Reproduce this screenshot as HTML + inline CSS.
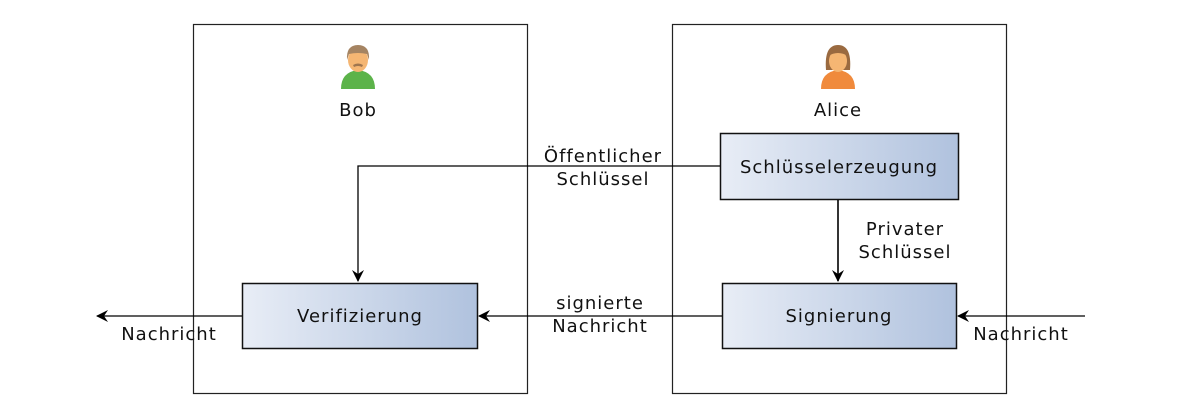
<!DOCTYPE html>
<html><head><meta charset="utf-8"><style>
html,body{margin:0;padding:0;background:#fff;width:1181px;height:418px;overflow:hidden}
text{font-family:"DejaVu Sans","Liberation Sans",sans-serif;font-size:18px;letter-spacing:1px;fill:#111}
</style></head><body>
<svg width="1181" height="418" xmlns="http://www.w3.org/2000/svg">
<defs>
<linearGradient id="g" x1="0" x2="1" y1="0" y2="0"><stop offset="0" stop-color="#e8edf6"/><stop offset="1" stop-color="#b0c2de"/></linearGradient>
<marker id="a" markerWidth="12" markerHeight="12" refX="11" refY="6" orient="auto" markerUnits="userSpaceOnUse"><path d="M0,0 L12,6 L0,12 L4,6 Z" fill="#000"/></marker>
</defs>
<rect x="193.5" y="24.5" width="334" height="369" fill="none" stroke="#222" stroke-width="1.2"/>
<rect x="672.5" y="24.5" width="334" height="369" fill="none" stroke="#222" stroke-width="1.2"/>
<g transform="translate(358,0)">
<path d="M-17,89 Q-17,72 0,70 Q17,72 17,89 Z" fill="#5cb34a"/>
<ellipse cx="0" cy="60" rx="10" ry="12" fill="#f5b673"/>
<path d="M-11,60 Q-12,45 0,45 Q12,45 11,60 L9,54 Q0,52 -9,54 Z" fill="#a58462"/>
<path d="M-5,65 Q0,62 5,65 L4,67 Q0,65 -4,67 Z" fill="#a0764f"/>
</g>
<text x="358" y="116" text-anchor="middle">Bob</text>
<g transform="translate(838,0)">
<path d="M-17,89 Q-17,72 0,70 Q17,72 17,89 Z" fill="#f08a3c"/>
<path d="M-12,70 Q-14,45 0,45 Q14,45 12,70 Z" fill="#9a6a40"/>
<ellipse cx="0" cy="61" rx="9" ry="11" fill="#f5b673"/>
<path d="M-10,56 Q-8,47 0,47 Q8,47 10,56 Q0,50 -10,56 Z" fill="#9a6a40"/>
</g>
<text x="838" y="116" text-anchor="middle">Alice</text>
<rect x="720.5" y="133.5" width="238" height="66" fill="url(#g)" stroke="#111" stroke-width="1.5"/>
<text x="839" y="173" text-anchor="middle">Schlüsselerzeugung</text>
<rect x="722.5" y="283.5" width="234" height="65" fill="url(#g)" stroke="#111" stroke-width="1.5"/>
<text x="839" y="322" text-anchor="middle">Signierung</text>
<rect x="242.5" y="283.5" width="235" height="65" fill="url(#g)" stroke="#111" stroke-width="1.5"/>
<text x="360" y="322" text-anchor="middle">Verifizierung</text>
<path d="M720,166 H358 V281" fill="none" stroke="#000" stroke-width="1.3" marker-end="url(#a)"/>
<path d="M838,200 V281" fill="none" stroke="#000" stroke-width="1.6" marker-end="url(#a)"/>
<path d="M722,316 H479" fill="none" stroke="#000" stroke-width="1.3" marker-end="url(#a)"/>
<path d="M242,316 H97" fill="none" stroke="#000" stroke-width="1.3" marker-end="url(#a)"/>
<path d="M1085,316 H958" fill="none" stroke="#000" stroke-width="1.3" marker-end="url(#a)"/>
<text x="603" y="162" text-anchor="middle">Öffentlicher</text>
<text x="603" y="185" text-anchor="middle">Schlüssel</text>
<text x="905" y="235" text-anchor="middle">Privater</text>
<text x="905" y="258" text-anchor="middle">Schlüssel</text>
<text x="600" y="309" text-anchor="middle">signierte</text>
<text x="600" y="332" text-anchor="middle">Nachricht</text>
<text x="169" y="340" text-anchor="middle">Nachricht</text>
<text x="1021" y="340" text-anchor="middle">Nachricht</text>
</svg>
</body></html>
